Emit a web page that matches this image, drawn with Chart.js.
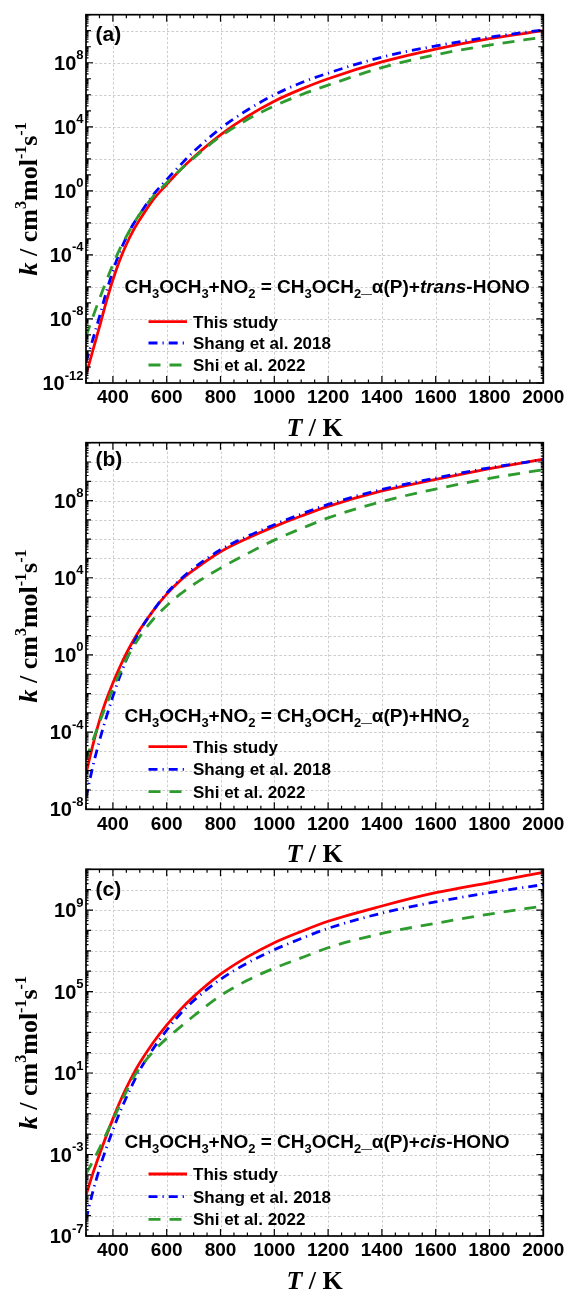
<!DOCTYPE html>
<html><head><meta charset="utf-8">
<script src="https://cdn.jsdelivr.net/npm/chart.js@4.4.0/dist/chart.umd.min.js"></script>
<style>
html,body{margin:0;padding:0;background:#fff;}
#wrap{position:relative;width:565px;height:1293px;overflow:hidden;}
canvas{position:absolute;left:0;}
</style></head><body>
<div id="wrap">
<canvas id="pa" width="565" height="440" style="top:0px"></canvas>
<canvas id="pb" width="565" height="426" style="top:440px"></canvas>
<canvas id="pc" width="565" height="427" style="top:866px"></canvas>
</div>
<script>
// ---------------- DATA ----------------
const temperatures = [300,325,350,375,400,425,450,475,500,550,600,650,700,800,900,1000,1100,1200,1400,1600,1800,2000];

// panel (a): CH3OCH3+NO2 = CH3OCH2_α(P)+trans-HONO
const thisStudyA = [3.16e-12,1e-10,3.16e-9,1.12e-7,2.82e-6,4.47e-5,4.47e-4,3.16e-3,1.58e-2,2.82e-1,2.51,20.0,126,3.16e3,4.47e4,3.98e5,2.24e6,1e7,1.12e8,7.08e8,3.16e9,1e10];
const shangA     = [2.0e-11,5.01e-10,1.41e-8,4.47e-7,1e-5,1.41e-4,1.26e-3,7.94e-3,3.55e-2,5.62e-1,5.01,39.8,282,7.94e3,1.12e5,1e6,5.62e6,2.24e7,2.24e8,1.12e9,3.98e9,1.12e10];
const shiA       = [7.94e-10,1.26e-8,1.78e-7,2.24e-6,2.51e-5,2.24e-4,1.41e-3,7.94e-3,3.55e-2,4.47e-1,3.16,20.0,112,2.51e3,2.82e4,2.0e5,1e6,3.98e6,5.01e7,3.16e8,1.26e9,3.98e9];

// panel (b): CH3OCH3+NO2 = CH3OCH2_α(P)+HNO2
const thisStudyB = [7.08e-7,2.0e-5,3.98e-4,4.47e-3,3.55e-2,2.24e-1,1.20,5.25,20.0,200,1.41e3,7.08e3,2.51e4,2.24e5,1.12e6,4.47e6,1.58e7,5.01e7,3.16e8,1.26e9,4.47e9,1.41e10];
const shangB     = [3.98e-8,1.58e-6,3.55e-5,5.62e-4,7.08e-3,7.08e-2,5.62e-1,3.55,17.8,200,1.58e3,7.94e3,3.16e4,2.82e5,1.41e6,5.62e6,2.0e7,6.31e7,3.8e8,1.48e9,5.01e9,1.32e10];
const shiB       = [3.55e-6,3.55e-5,3.16e-4,2.51e-3,1.78e-2,1.12e-1,6.03e-1,2.51,8.91,70.8,355,1.41e3,4.47e3,3.16e4,1.78e5,8.91e5,3.55e6,1.26e7,8.91e7,3.98e8,1.41e9,3.98e9];

// panel (c): CH3OCH3+NO2 = CH3OCH2_α(P)+cis-HONO
const thisStudyC = [1e-5,1.12e-4,1e-3,7.94e-3,5.62e-2,3.55e-1,1.86,8.32,31.6,316,2.24e3,1.26e4,5.62e4,7.08e5,5.01e6,2.51e7,8.91e7,2.82e8,1.58e9,7.08e9,2.24e10,7.08e10];
const shangC     = [6.31e-7,1.41e-5,2.0e-4,2.0e-3,1.58e-2,1.12e-1,6.31e-1,3.16,14.1,158,1.26e3,7.94e3,3.55e4,3.98e5,2.51e6,1.12e7,3.98e7,1.26e8,7.08e8,2.51e9,7.08e9,1.78e10];
const shiC       = [1.12e-4,4.47e-4,2.0e-3,1e-2,5.01e-2,2.51e-1,1.26,5.62,17.8,112,501,1.78e3,6.31e3,6.31e4,3.55e5,1.41e6,4.47e6,1.41e7,7.08e7,2.24e8,6.31e8,1.58e9];

const seriesNames = ['This study','Shang et al. 2018','Shi et al. 2022'];
const xTickLabels = [400,600,800,1000,1200,1400,1600,1800,2000];
const yTickExpA = [-12,-8,-4,0,4,8];
const yTickExpB = [-8,-4,0,4,8];
const yTickExpC = [-7,-3,1,5,9];
const panelLabels = ['(a)','(b)','(c)'];
const productA = ['trans','-HONO'];
const productB = ['HNO','2'];
const productC = ['cis','-HONO'];

// ---------------- STYLE ----------------
const SANS = '"Liberation Sans", Arial, Helvetica, sans-serif';
const SERIF = '"Liberation Serif", "Times New Roman", serif';
const styles = [
  {color:'#ff0000', dash:[], width:2.8},
  {color:'#0000ff', dash:[9,5,1.2,5], width:2.8},
  {color:'#2e9b2e', dash:[12,9], width:2.8}
];

function runsWidth(ctx, runs){
  let w=0; runs.forEach(r=>{ctx.font=r.f; r.w=ctx.measureText(r.t).width; w+=r.w;}); return w;
}
function drawRuns(ctx, x, y, runs, align){
  const w = runsWidth(ctx, runs);
  let cx = align==='right' ? x-w : (align==='center' ? x-w/2 : x);
  ctx.textAlign='left'; ctx.textBaseline='alphabetic';
  runs.forEach(r=>{ctx.font=r.f; ctx.fillText(r.t, cx, y+(r.dy||0)); cx+=r.w;});
}

function reactionRuns(product){
  const B='bold 19px '+SANS, S='bold 13px '+SANS, I='italic bold 19px '+SANS;
  const base=[{t:'CH',f:B},{t:'3',f:S,dy:5},{t:'OCH',f:B},{t:'3',f:S,dy:5},{t:'+NO',f:B},{t:'2',f:S,dy:5},
    {t:' = CH',f:B},{t:'3',f:S,dy:5},{t:'OCH',f:B},{t:'2',f:S,dy:5},{t:'_\u03B1(P)+',f:B}];
  if(product[1]==='2'){ base.push({t:product[0],f:B}); base.push({t:'2',f:S,dy:5}); }
  else { base.push({t:product[0],f:I}); base.push({t:product[1],f:B}); }
  return base;
}

function decor(cfg){
  return {
    id:'decor',
    beforeDatasetsDraw(chart){
      const ctx=chart.ctx, a=chart.chartArea, xs=chart.scales.x, ys=chart.scales.y;
      ctx.save();
      ctx.strokeStyle='#cdcdcd'; ctx.lineWidth=1; ctx.setLineDash([2.5,2]);
      xTickLabels.forEach(t=>{ if(t>=2000) return; const px=Math.round(xs.getPixelForValue(t))+0.5;
        ctx.beginPath(); ctx.moveTo(px,a.top); ctx.lineTo(px,a.bottom); ctx.stroke(); });
      cfg.gridExps.forEach(e=>{ const py=Math.round(ys.getPixelForValue(Math.pow(10,e)))+0.5;
        ctx.beginPath(); ctx.moveTo(a.left,py); ctx.lineTo(a.right,py); ctx.stroke(); });
      ctx.restore();
    },
    afterDatasetsDraw(chart){
      const ctx=chart.ctx, a=chart.chartArea, xs=chart.scales.x, ys=chart.scales.y;
      ctx.save();
      ctx.setLineDash([]);
      ctx.strokeStyle='#000'; ctx.fillStyle='#000';
      // ticks
      ctx.lineWidth=1.2;
      for(let t=300;t<=2000;t+=50){
        const px=xs.getPixelForValue(t); const L=(t%200===0)?7:3.5;
        ctx.beginPath(); ctx.moveTo(px,a.bottom); ctx.lineTo(px,a.bottom-L);
        ctx.moveTo(px,a.top); ctx.lineTo(px,a.top+L); ctx.stroke();
      }
      const e0=Math.round(Math.log10(cfg.yMin)), e1=Math.round(Math.log10(cfg.yMax));
      for(let e=e0;e<=e1;e++){
        for(let m=1;m<=9;m++){
          const v=m*Math.pow(10,e); if(v>cfg.yMax*1.0001) break;
          const py=ys.getPixelForValue(v);
          let L = m===1 ? (cfg.labelExps.includes(e)?7:5) : 2.5;
          ctx.beginPath(); ctx.moveTo(a.left,py); ctx.lineTo(a.left+L,py);
          ctx.moveTo(a.right,py); ctx.lineTo(a.right-L,py); ctx.stroke();
        }
      }
      // frame
      ctx.lineWidth=1.7;
      ctx.strokeRect(a.left,a.top,a.right-a.left,a.bottom-a.top);
      // x tick labels
      ctx.font='bold 19px '+SANS; ctx.textAlign='center'; ctx.textBaseline='alphabetic';
      xTickLabels.forEach(t=>{ ctx.fillText(String(t), xs.getPixelForValue(t), a.bottom+20.3); });
      // y tick labels
      cfg.labelExps.forEach(e=>{
        const py=ys.getPixelForValue(Math.pow(10,e));
        drawRuns(ctx, 83.5, py+7, [{t:'10',f:'bold 20px '+SANS},{t:String(e),f:'bold 13px '+SANS,dy:-10.5}], 'right');
      });
      // axis titles
      const TB='bold 26px '+SERIF, TI='italic bold 26px '+SERIF, TS='bold 16px '+SERIF;
      drawRuns(ctx, (a.left+a.right)/2, a.bottom+53, [{t:'T',f:TI},{t:' / K',f:TB}], 'center');
      ctx.save();
      ctx.translate(37,(a.top+a.bottom)/2); ctx.rotate(-Math.PI/2);
      drawRuns(ctx, 0, 0, [{t:'k',f:TI},{t:' / cm',f:TB},{t:'3',f:TS,dy:-11},{t:'mol',f:TB},{t:'-1',f:TS,dy:-11},{t:'s',f:TB},{t:'-1',f:TS,dy:-11}], 'center');
      ctx.restore();
      // panel label
      ctx.font='bold 21px '+SANS; ctx.textAlign='left';
      ctx.fillText(cfg.label, 95.5, a.top+cfg.labelDy);
      // reaction text
      drawRuns(ctx, 124.5, a.top+cfg.reactDy, reactionRuns(cfg.product), 'left');
      // legend
      cfg.legendDy.forEach((dy,i)=>{
        const y=a.top+dy, st=styles[i];
        ctx.save(); ctx.strokeStyle=st.color; ctx.lineWidth=st.width; ctx.setLineDash(st.dash);
        ctx.beginPath(); ctx.moveTo(148.5,y); ctx.lineTo(187,y); ctx.stroke(); ctx.restore();
        ctx.fillStyle='#000'; ctx.font='bold 17px '+SANS; ctx.textAlign='left';
        ctx.fillText(seriesNames[i], 193, y+6.1);
      });
      ctx.restore();
    }
  };
}

function makeChart(cfg){
  const sets=[cfg.red,cfg.blue,cfg.green].map((arr,i)=>({
    label: seriesNames[i],
    data: temperatures.map((t,j)=>({x:t,y:arr[j]})),
    borderColor: styles[i].color, borderWidth: styles[i].width, borderDash: styles[i].dash,
    pointRadius:0, fill:false, cubicInterpolationMode:'monotone', order:3-i
  }));
  return new Chart(document.getElementById(cfg.id), {
    type:'line',
    data:{datasets:sets},
    options:{
      responsive:false, animation:false, devicePixelRatio:1,
      layout:{padding:{left:86, right:21.7, top:cfg.padTop, bottom:cfg.padBottom}},
      plugins:{legend:{display:false}, tooltip:{enabled:false}},
      scales:{
        x:{type:'linear', min:300, max:2000, display:false},
        y:{type:'logarithmic', min:cfg.yMin, max:cfg.yMax, display:false}
      }
    },
    plugins:[decor(cfg)]
  });
}

function range(a,b,s){const r=[];for(let v=a;v<=b;v+=s)r.push(v);return r;}

makeChart({id:'pa', red:thisStudyA, blue:shangA, green:shiA, yMin:1e-12, yMax:1e11,
  padTop:14.7, padBottom:57, gridExps:range(-10,10,2), labelExps:yTickExpA,
  label:panelLabels[0], labelDy:26.1, product:productA, reactDy:278.6, legendDy:[307,328.3,350.3]});
makeChart({id:'pb', red:thisStudyB, blue:shangB, green:shiB, yMin:1e-8, yMax:1e11,
  padTop:2.7, padBottom:56.7, gridExps:range(-7,10,1), labelExps:yTickExpB,
  label:panelLabels[1], labelDy:23.1, product:productB, reactDy:279, legendDy:[304,326.6,349]});
makeChart({id:'pc', red:thisStudyC, blue:shangC, green:shiC, yMin:1e-7, yMax:1e11,
  padTop:3.3, padBottom:57, gridExps:range(-6,10,1), labelExps:yTickExpC,
  label:panelLabels[2], labelDy:26.5, product:productC, reactDy:279, legendDy:[304.7,327.4,350]});
</script>
</body></html>
